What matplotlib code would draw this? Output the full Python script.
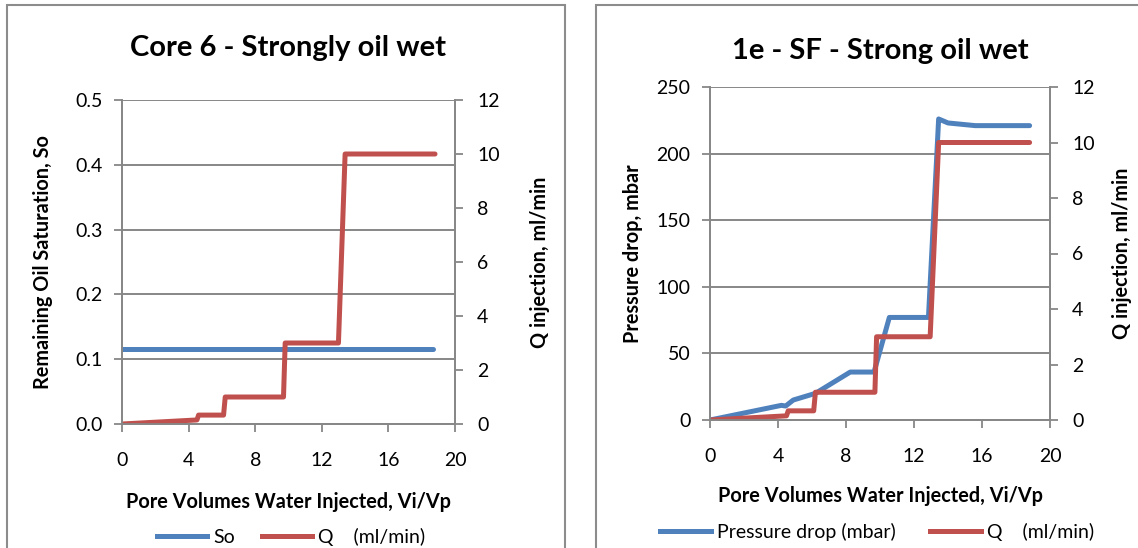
import matplotlib
matplotlib.use("Agg")
import matplotlib.pyplot as plt
from matplotlib.patches import Rectangle
from matplotlib.lines import Line2D

plt.rcParams['font.family'] = ['Lato', 'DejaVu Sans']

BLUE = '#4F81BD'
RED = '#C0504D'
GRID = '#878787'

# left chart: Core 6
core6_pv = [0, 4.5, 4.6, 6.1, 6.2, 9.7, 9.8, 13.0, 13.4, 18.8]
core6_q = [0, 0.15, 0.33, 0.33, 1.0, 1.0, 3.0, 3.0, 10.0, 10.0]
core6_so_pv = [0, 18.7]
core6_so = [0.116, 0.116]

# right chart: 1e - SF
sf_pv_dp = [0, 4.2, 4.45, 4.9, 6.2, 8.25, 9.65, 10.55, 12.85, 13.45, 14.0, 15.6, 18.8]
sf_dp = [0, 11, 10.5, 15, 20, 36, 36, 77, 77, 226, 223, 221, 221]
sf_pv_q = [0, 4.5, 4.6, 6.1, 6.2, 9.7, 9.8, 12.95, 13.45, 18.8]
sf_q = [0, 0.15, 0.33, 0.33, 1.0, 1.0, 3.0, 3.0, 10.0, 10.0]

x_ticks = [0, 4, 8, 12, 16, 20]
q_ticks = [0, 2, 4, 6, 8, 10, 12]

W, H = 1138, 548
fig = plt.figure(figsize=(W / 100, H / 100), dpi=100)

# chart borders (Excel chart area)
fig.patches.append(Rectangle((7 / W, -0.05), (565 - 7) / W, 1 - 5 / H + 0.05,
                             transform=fig.transFigure, fill=False,
                             edgecolor='#8c8c8c', lw=1.5))
fig.patches.append(Rectangle((596 / W, -0.05), 0.5, 1 - 5 / H + 0.05,
                             transform=fig.transFigure, fill=False,
                             edgecolor='#8c8c8c', lw=1.5))

TICK_FS = 14
LAB_FS = 14.3


def style_axes(ax, ax2, xpad):
    for a in (ax, ax2):
        for s in a.spines.values():
            s.set_color(GRID)
            s.set_linewidth(1.3)
        a.spines['top'].set_visible(False)
        a.tick_params(colors=GRID, labelcolor='black', labelsize=TICK_FS,
                      direction='out', length=6, width=1.3)
    ax.yaxis.grid(True, color=GRID, linewidth=1.4)
    ax.set_axisbelow(True)
    ax.set_xlim(0, 20)
    ax.set_xticks(x_ticks)
    ax.tick_params(axis='x', pad=14)
    ax.tick_params(axis='y', pad=8)
    ax2.tick_params(axis='y', pad=10)
    ax2.set_ylim(0, 12)
    ax2.set_yticks(q_ticks)
    ax.set_xlabel('Pore Volumes Water Injected, Vi/Vp', fontsize=LAB_FS,
                  fontweight='bold', labelpad=xpad)


def add_legend(labels, cx, cy, spacing):
    fig.legend([Line2D([], [], color=BLUE, lw=3.6), Line2D([], [], color=RED, lw=3.6)],
               labels, loc='center', bbox_to_anchor=(cx / W, 1 - cy / H),
               ncol=2, frameon=False, fontsize=14, handlelength=2.6,
               handletextpad=0.3, columnspacing=spacing, borderpad=0)


# ---- left ----
ax = fig.add_axes([122 / W, 1 - 424 / H, (455 - 122) / W, (424 - 100) / H])
ax2 = ax.twinx()
ax.plot(core6_so_pv, core6_so, color=BLUE, lw=3.6, solid_capstyle='round')
ax2.plot(core6_pv, core6_q, color=RED, lw=3.6, solid_capstyle='round')
ax.set_ylim(0, 0.5)
ax.set_yticks([0, 0.1, 0.2, 0.3, 0.4, 0.5])
ax.set_yticklabels(['0.0', '0.1', '0.2', '0.3', '0.4', '0.5'])
style_axes(ax, ax2, 17)
ax.set_ylabel('Remaining Oil Saturation, So', fontsize=LAB_FS, fontweight='bold',
              labelpad=16)
ax2.set_ylabel('Q injection, ml/min', fontsize=LAB_FS, fontweight='bold',
               rotation=90, labelpad=22)
ax.set_title('Core 6 - Strongly oil wet', fontsize=21, fontweight='bold', pad=32)
add_legend(['So', 'Q    (ml/min)'], 291, 537, 1.4)

# ---- right ----
bx = fig.add_axes([710 / W, 1 - 420 / H, (1050 - 710) / W, (420 - 87) / H])
bx2 = bx.twinx()
bx.plot(sf_pv_dp, sf_dp, color=BLUE, lw=3.6, solid_capstyle='round')
bx2.plot(sf_pv_q, sf_q, color=RED, lw=3.6, solid_capstyle='round')
bx.set_ylim(0, 250)
bx.set_yticks([0, 50, 100, 150, 200, 250])
style_axes(bx, bx2, 15)
bx.set_ylabel('Pressure drop, mbar', fontsize=LAB_FS, fontweight='bold', labelpad=10)
bx2.set_ylabel('Q injection, ml/min', fontsize=LAB_FS, fontweight='bold',
               rotation=90, labelpad=12)
bx.set_title('1e - SF - Strong oil wet', fontsize=21, fontweight='bold', pad=20)
add_legend(['Pressure drop (mbar)', 'Q    (ml/min)'], 877, 532, 1.8)

fig.savefig('out.png', dpi=100)
